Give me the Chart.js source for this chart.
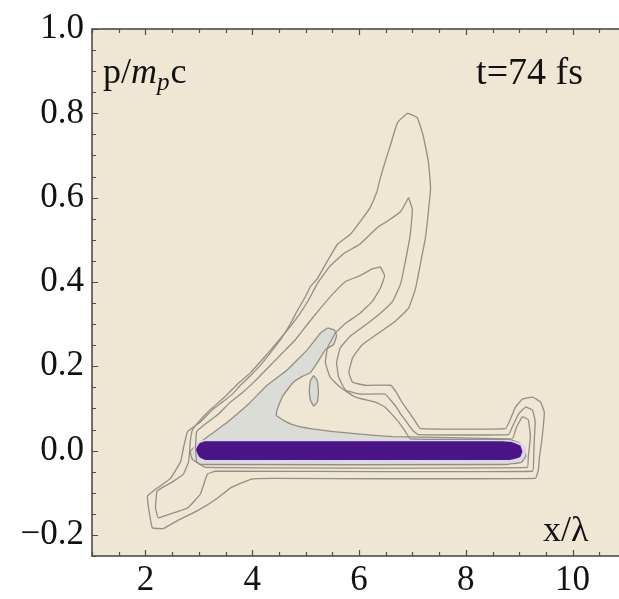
<!DOCTYPE html>
<html>
<head>
<meta charset="utf-8">
<script src="https://cdn.jsdelivr.net/npm/chart.js@4.4.1/dist/chart.umd.min.js"></script>
<style>
  html, body { margin: 0; padding: 0; background: #fff; overflow: hidden; }
  canvas { display: block; }
</style>
</head>
<body>
<canvas id="phase" width="640" height="599"></canvas>
<script>
// axis setup (x in units of lambda, y in p / m_p c)
const xRange = [1, 11];
const yRange = [-0.25, 1.0];
const xTickLabels = [2, 4, 6, 8, 10];
const yTickLabels = [-0.2, 0.0, 0.2, 0.4, 0.6, 0.8, 1.0];
const xMinorStep = 0.5;
const yMinorStep = 0.05;

// contour levels, outermost first, as [x, p] pairs
const contourOuter = [
  [2.34,-0.185],[2.13,-0.183],[2.06,-0.136],[2.04,-0.108],[2.22,-0.089],[2.47,-0.066],
  [2.66,-0.026],[2.71,0.005],[2.79,0.045],[3.03,0.068],[3.25,0.096],[3.44,0.115],
  [3.63,0.134],[3.78,0.155],[3.97,0.178],[4.15,0.202],[4.34,0.232],[4.53,0.263],
  [4.72,0.302],[4.85,0.333],[5.00,0.366],[5.09,0.389],[5.22,0.408],[5.41,0.450],
  [5.60,0.490],[5.84,0.513],[6.08,0.553],[6.21,0.577],[6.33,0.612],[6.40,0.647],
  [6.49,0.685],[6.59,0.725],[6.72,0.778],[6.91,0.800],[7.09,0.790],[7.20,0.748],
  [7.30,0.685],[7.34,0.624],[7.30,0.567],[7.24,0.502],[7.15,0.443],[7.06,0.385],
  [6.93,0.338],[6.68,0.307],[6.37,0.279],[6.06,0.251],[5.88,0.220],[5.81,0.185],
  [5.88,0.162],[6.12,0.155],[6.59,0.155],[6.70,0.138],[6.78,0.120],[6.87,0.103],
  [6.96,0.087],[7.06,0.068],[7.15,0.052],[8.74,0.052],[8.83,0.073],[8.93,0.103],
  [9.06,0.122],[9.25,0.127],[9.40,0.115],[9.47,0.091],[9.45,0.056],[9.42,0.021],
  [9.38,-0.014],[9.36,-0.045],[9.30,-0.066],[4.38,-0.066],[3.97,-0.068],[3.59,-0.089],
  [3.35,-0.113],[2.97,-0.143],[2.60,-0.166],[2.34,-0.185]
];
const contourMid = [
  [6.93,0.600],[7.00,0.572],[6.96,0.513],[6.87,0.450],[6.78,0.396],[6.63,0.354],
  [6.40,0.326],[6.12,0.298],[5.84,0.272],[5.65,0.244],[5.58,0.209],[5.62,0.174],
  [5.75,0.143],[6.02,0.134],[6.49,0.134],[6.59,0.120],[6.70,0.103],[6.78,0.087],
  [6.89,0.068],[7.00,0.049],[7.11,0.038],[8.80,0.038],[8.87,0.056],[8.99,0.087],
  [9.12,0.103],[9.25,0.096],[9.30,0.068],[9.28,0.021],[9.27,-0.021],[9.25,-0.049],
  [3.31,-0.049],[3.16,-0.056],[3.03,-0.103],[2.79,-0.136],[2.47,-0.150],[2.24,-0.159],
  [2.19,-0.136],[2.22,-0.096],[2.52,-0.073],[2.71,-0.056],[2.81,-0.026],[2.84,0.021],
  [2.88,0.049],[3.03,0.073],[3.25,0.101],[3.50,0.129],[3.72,0.157],[3.97,0.185],
  [4.19,0.216],[4.43,0.251],[4.66,0.286],[4.87,0.321],[5.05,0.356],[5.22,0.396],
  [5.46,0.438],[5.71,0.467],[6.02,0.490],[6.35,0.530],[6.53,0.544],[6.78,0.567],
  [6.93,0.600]
];
const contourInner = [
  [6.40,0.436],[6.48,0.415],[6.40,0.385],[6.25,0.354],[6.02,0.326],[5.75,0.302],
  [5.56,0.279],[5.41,0.244],[5.37,0.209],[5.46,0.174],[5.65,0.150],[5.93,0.127],
  [6.31,0.115],[6.49,0.103],[6.63,0.084],[6.74,0.068],[6.87,0.045],[6.96,0.028],
  [8.87,0.028],[8.95,0.056],[9.06,0.080],[9.17,0.073],[9.21,0.033],[9.17,-0.014],
  [9.15,-0.040],[3.12,-0.040],[2.96,-0.026],[2.94,0.009],[2.96,0.045],[3.12,0.063],
  [3.37,0.087],[3.59,0.115],[3.82,0.138],[4.06,0.166],[4.30,0.197],[4.57,0.232],
  [4.81,0.263],[5.05,0.302],[5.28,0.338],[5.52,0.373],[5.75,0.401],[6.02,0.415],
  [6.25,0.431],[6.40,0.436]
];
const densityRegion = [
  [5.41,0.291],[5.54,0.286],[5.58,0.272],[5.52,0.251],[5.37,0.239],[5.22,0.209],
  [5.09,0.185],[4.94,0.176],[4.77,0.162],[4.58,0.131],[4.47,0.098],[4.45,0.084],
  [4.57,0.073],[4.77,0.061],[5.09,0.052],[5.52,0.045],[6.64,0.033],[8.78,0.028],
  [8.99,0.019],[9.10,0.005],[9.12,-0.014],[9.04,-0.028],[8.74,-0.033],[3.03,-0.033],
  [2.88,-0.021],[2.84,-0.002],[2.97,0.014],[3.22,0.038],[3.54,0.068],[3.91,0.108],
  [4.28,0.155],[4.66,0.192],[5.03,0.239],[5.28,0.279],[5.41,0.291]
];
const densityIsland = [
  [5.15,0.178],[5.22,0.166],[5.24,0.138],[5.22,0.115],[5.15,0.106],[5.09,0.120],
  [5.07,0.143],[5.09,0.166],[5.15,0.178]
];
const peakHalo = [
  [2.88,0.002],[2.97,0.021],[3.12,0.026],[8.74,0.026],[8.95,0.021],[9.10,0.012],
  [9.13,-0.002],[9.08,-0.019],[8.87,-0.028],[3.12,-0.028],[2.97,-0.021],[2.88,0.002]
];
const peakCore = [
  [2.94,0.002],[3.01,0.017],[3.12,0.022],[8.65,0.022],[8.87,0.020],[9.02,0.012],
  [9.06,-0.002],[9.02,-0.015],[8.83,-0.022],[3.12,-0.022],[3.01,-0.015],[2.94,0.002]
];

const toPoints = (arr) => arr.map(([x, y]) => ({ x, y }));
const serif = '"Liberation Serif", "Times New Roman", serif';
const lineGray = '#928f86';

function shape(data, fillColor, borderColor, order) {
  return {
    data: toPoints(data),
    borderColor: borderColor,
    backgroundColor: fillColor,
    borderWidth: borderColor === 'transparent' ? 0 : 1.3,
    fill: 'shape',
    tension: 0.1,
    pointRadius: 0,
    order: order
  };
}

function contour(data, order) {
  return {
    data: toPoints(data),
    borderColor: lineGray,
    borderWidth: 1.3,
    fill: false,
    tension: 0.1,
    pointRadius: 0,
    order: order
  };
}

// beige plot background, frame with inward ticks, and the in-plot texts
const framePlugin = {
  id: 'frame',
  beforeDraw(chart) {
    const { ctx, chartArea: a } = chart;
    ctx.save();
    ctx.fillStyle = '#efe6d4';
    ctx.fillRect(a.left, a.top, a.right - a.left, a.bottom - a.top);
    ctx.restore();
  },
  afterDraw(chart) {
    const { ctx, chartArea: a, scales: { x, y } } = chart;
    ctx.save();
    ctx.strokeStyle = '#4d4d4d';
    ctx.lineWidth = 1.6;
    ctx.strokeRect(a.left, a.top, a.right - a.left, a.bottom - a.top);

    ctx.lineWidth = 1.2;
    ctx.beginPath();
    for (let v = xRange[0]; v <= xRange[1] + 1e-9; v += xMinorStep) {
      const px = Math.round(x.getPixelForValue(v)) + 0.5;
      const major = xTickLabels.some(t => Math.abs(t - v) < 1e-6);
      const len = major ? 6 : 4;
      ctx.moveTo(px, a.bottom); ctx.lineTo(px, a.bottom - len);
      ctx.moveTo(px, a.top); ctx.lineTo(px, a.top + len);
    }
    for (let v = yRange[0]; v <= yRange[1] + 1e-9; v += yMinorStep) {
      const py = Math.round(y.getPixelForValue(v)) + 0.5;
      const major = yTickLabels.some(t => Math.abs(t - v) < 1e-6);
      const len = major ? 6 : 4;
      ctx.moveTo(a.left, py); ctx.lineTo(a.left + len, py);
      ctx.moveTo(a.right, py); ctx.lineTo(a.right - len, py);
    }
    ctx.stroke();

    ctx.fillStyle = '#111';
    ctx.textBaseline = 'alphabetic';
    // p/m_p c
    let tx = a.left + 11;
    const ty = a.top + 54;
    ctx.font = '36px ' + serif;
    ctx.fillText('p/', tx, ty);
    tx += ctx.measureText('p/').width;
    ctx.font = 'italic 36px ' + serif;
    ctx.fillText('m', tx, ty);
    tx += ctx.measureText('m').width;
    ctx.font = 'italic 25px ' + serif;
    ctx.fillText('p', tx, ty + 7);
    tx += ctx.measureText('p').width + 1;
    ctx.font = '36px ' + serif;
    ctx.fillText('c', tx, ty);

    ctx.textAlign = 'right';
    ctx.font = '38px ' + serif;
    ctx.fillText('t=74 fs', a.right - 43, a.top + 55);

    ctx.textAlign = 'left';
    ctx.font = '36px ' + serif;
    ctx.fillText('x/\u03bb', a.left + 451, a.bottom - 15);
    ctx.restore();
  }
};

const tickFont = { family: serif, size: 35 };

new Chart(document.getElementById('phase').getContext('2d'), {
  type: 'line',
  data: {
    datasets: [
      contour(contourOuter, 1),
      contour(contourMid, 2),
      contour(contourInner, 3),
      shape(peakCore, '#4b1487', 'transparent', 4),
      shape(peakHalo, '#dcd6e8', 'transparent', 5),
      shape(densityIsland, '#dcdcd7', lineGray, 6),
      shape(densityRegion, '#dcdcd7', lineGray, 7)
    ]
  },
  options: {
    responsive: false,
    animation: false,
    layout: { padding: { top: 23, right: 14, left: 0, bottom: 0 } },
    scales: {
      x: {
        type: 'linear',
        min: xRange[0],
        max: xRange[1],
        afterBuildTicks: (scale) => { scale.ticks = xTickLabels.map(v => ({ value: v })); },
        afterFit: (scale) => { scale.height = 43; },
        grid: { display: false, drawTicks: false },
        border: { display: false },
        ticks: {
          color: '#111',
          font: tickFont,
          padding: 4,
          autoSkip: false,
          maxRotation: 0,
          callback: (v) => String(v)
        }
      },
      y: {
        type: 'linear',
        min: yRange[0],
        max: yRange[1],
        afterBuildTicks: (scale) => { scale.ticks = yTickLabels.map(v => ({ value: v })); },
        afterFit: (scale) => { scale.width = 92; },
        grid: { display: false, drawTicks: false },
        border: { display: false },
        ticks: {
          color: '#111',
          font: tickFont,
          padding: 8,
          autoSkip: false,
          callback: (v) => v.toFixed(1).replace('-', '\u2212')
        }
      }
    },
    plugins: {
      legend: { display: false },
      tooltip: { enabled: false }
    }
  },
  plugins: [framePlugin]
});
</script>
</body>
</html>
